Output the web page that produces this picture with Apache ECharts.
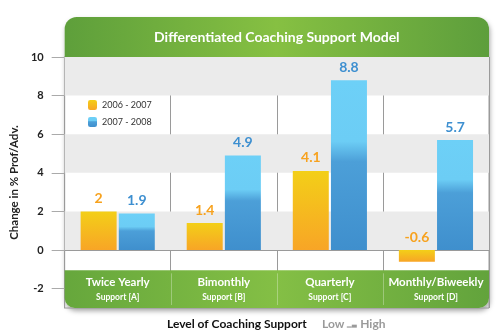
<!DOCTYPE html>
<html><head><meta charset="utf-8">
<script src="https://cdn.jsdelivr.net/npm/echarts@6/dist/echarts.min.js"></script>
<style>html,body{margin:0;padding:0;background:#fff}#c{width:502px;height:336px}</style>
</head><body><div id="c"></div>
<script>
const categories = ['Twice Yearly', 'Bimonthly', 'Quarterly', 'Monthly/Biweekly'];
const subLabels = ['Support [A]', 'Support [B]', 'Support [C]', 'Support [D]'];
const seriesNames = ['2006 - 2007', '2007 - 2008'];
const values0607 = [2, 1.4, 4.1, -0.6];
const values0708 = [1.9, 4.9, 8.8, 5.7];
const yTicks = [-2, 0, 2, 4, 6, 8, 10];
const grayBands = [[8, 10], [4, 6], [0, 2]];
const titleText = 'Differentiated Coaching Support Model';
const yName = 'Change in % Prof/Adv.';

const FONT = 'Lato';
const chart = echarts.init(document.getElementById('c'), null, {renderer: 'canvas'});

const orangeGrad = new echarts.graphic.LinearGradient(0, 0, 0, 1, [
  {offset: 0, color: '#f3cf18'}, {offset: 1, color: '#f8a526'}]);
const blueGrad = new echarts.graphic.LinearGradient(0, 0, 0, 1, [
  {offset: 0, color: '#6dd0f7'}, {offset: 0.36, color: '#6ccdf5'},
  {offset: 0.48, color: '#4c9fd8'}, {offset: 1, color: '#3f8fcd'}]);

const option = {
  animation: false,
  textStyle: {fontFamily: FONT},
  grid: {left: 60, right: 13, top: 57, bottom: 28, show: true, borderColor: '#9a9a9a', borderWidth: 1, backgroundColor: 'transparent'},
  legend: {
    orient: 'vertical', left: 83, top: 95, itemWidth: 9, itemHeight: 10, itemGap: 7,
    textStyle: {fontSize: 9, color: '#333', fontFamily: FONT},
    data: seriesNames
  },
  xAxis: {
    type: 'category', data: categories,
    axisLine: {onZero: true, lineStyle: {color: '#9a9a9a', width: 1}},
    axisTick: {show: false, interval: 0},
    splitLine: {show: true, interval: 0, lineStyle: {color: '#9a9a9a', width: 1}},
    axisLabel: {show: false, interval: 0}
  },
  yAxis: {
    type: 'value', min: -3, max: 10, interval: 1,
    name: yName, nameLocation: 'middle', nameGap: 42, nameRotate: 90,
    nameTextStyle: {fontSize: 11.5, fontWeight: 'bold', color: '#222', fontFamily: FONT},
    axisLine: {show: true, lineStyle: {color: '#9a9a9a'}},
    axisTick: {show: true, length: 13, customValues: yTicks, lineStyle: {color: '#aaa'}},
    axisLabel: {customValues: yTicks, margin: 21, fontSize: 11, fontWeight: 'bold', color: '#222', fontFamily: FONT},
    splitLine: {show: false}
  },
  series: [
    {
      name: seriesNames[0], type: 'bar', data: values0607, barWidth: 36, barGap: '6%',
      itemStyle: {color: orangeGrad},
      label: {show: true, position: 'top', distance: 6, fontSize: 14, fontWeight: 'bold', color: '#f7a21e', fontFamily: FONT},
      markArea: {
        silent: true, itemStyle: {color: '#ebebeb'},
        data: grayBands.map(b => [{yAxis: b[0]}, {yAxis: b[1]}])
      },
      z: 3
    },
    {
      name: seriesNames[1], type: 'bar', data: values0708, barWidth: 36,
      itemStyle: {color: blueGrad},
      label: {show: true, position: 'top', distance: 6, fontSize: 14, fontWeight: 'bold', color: '#3d8fd0', fontFamily: FONT},
      z: 3
    }
  ]
};
chart.setOption(option);

// decorative panels and category labels positioned from the axes' own scales
const yPx = v => chart.convertToPixel({yAxisIndex: 0}, v);
const xPx = i => chart.convertToPixel({xAxisIndex: 0}, categories[i]);
const step = xPx(1) - xPx(0);
const left = xPx(0) - step / 2;
const right = xPx(categories.length - 1) + step / 2;
const topBand = yPx(12.07), plotTop = yPx(10);
const greenTop = yPx(-1.05), plotBottom = yPx(-3);
const greenH = new echarts.graphic.LinearGradient(0, 0, 1, 0, [
  {offset: 0, color: '#5e9f3b'}, {offset: 0.5, color: '#86c042'}, {offset: 1, color: '#5d9e3c'}]);
const greenB = new echarts.graphic.LinearGradient(0, 0, 1, 0, [
  {offset: 0, color: '#66a73c'}, {offset: 0.5, color: '#84bf45'}, {offset: 1, color: '#62a33c'}]);
const extras = [];
for (let i = 1; i < categories.length; i++) {
  const x = Math.round(left + step * i) + 0.5;
  extras.push({type: 'line', z: 2, silent: true,
    shape: {x1: x, y1: greenTop + 3, x2: x, y2: plotBottom - 3},
    style: {stroke: 'rgba(255,255,255,0.3)', lineWidth: 1}});
}
categories.forEach((c, i) => {
  extras.push({type: 'text', z: 6, silent: true, x: xPx(i), y: yPx(-1.66),
    style: {text: c, fill: '#fff', font: 'bold 11.5px ' + FONT, align: 'center', verticalAlign: 'middle'}});
  extras.push({type: 'text', z: 6, silent: true, x: xPx(i), y: yPx(-2.45),
    style: {text: subLabels[i], fill: '#fff', font: 'bold 8.5px ' + FONT, align: 'center', verticalAlign: 'middle'}});
});
chart.setOption({
  graphic: [
    {type: 'rect', z: -10, silent: true,
      shape: {x: left, y: topBand, width: right - left, height: plotBottom - topBand, r: [12, 12, 10, 10]},
      style: {fill: '#fff', shadowBlur: 5, shadowOffsetX: 1, shadowOffsetY: 3, shadowColor: 'rgba(0,0,0,0.35)'}},
    {type: 'rect', z: 1, silent: true,
      shape: {x: left, y: topBand, width: right - left, height: plotTop - topBand, r: [12, 12, 0, 0]},
      style: {fill: greenH}},
    {type: 'text', z: 6, silent: true, x: (left + right) / 2, y: (topBand + plotTop) / 2,
      style: {text: titleText, fill: '#fff', font: 'bold 14px ' + FONT, align: 'center', verticalAlign: 'middle'}},
    {type: 'rect', z: 1, silent: true,
      shape: {x: left, y: greenTop, width: right - left, height: plotBottom - greenTop, r: [0, 0, 10, 10]},
      style: {fill: greenB}},
    ...extras,
    {type: 'text', z: 6, silent: true, x: 167, y: 324,
      style: {text: 'Level of Coaching Support', font: 'bold 12px ' + FONT, fill: '#111', verticalAlign: 'middle'}},
    {type: 'text', z: 6, silent: true, x: 322, y: 324,
      style: {
        text: '{g|Low }{i|▁▃}{g| High}', verticalAlign: 'middle',
        rich: {
          g: {font: 'bold 12px ' + FONT, fill: '#9a9a9a'},
          i: {font: 'bold 6px ' + FONT, fill: '#9a9a9a'}
        }
      }}
  ]
});
</script></body></html>
